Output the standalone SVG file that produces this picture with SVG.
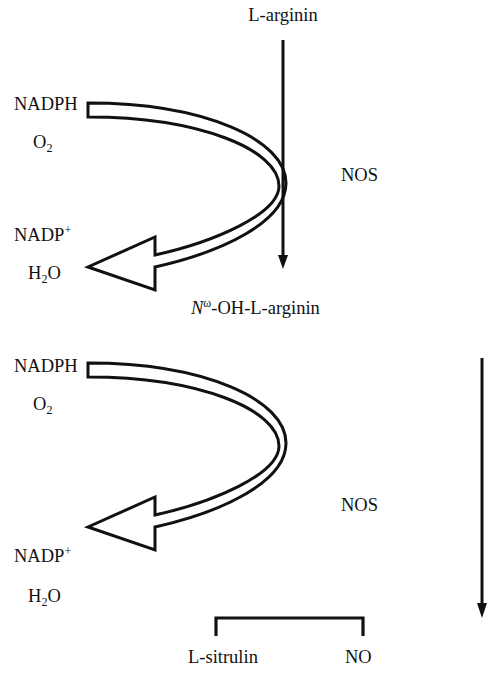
<svg xmlns="http://www.w3.org/2000/svg" xmlns:xlink="http://www.w3.org/1999/xlink" width="488" height="673" viewBox="0 0 488 673">
  <style>
    .lbl { font-family: "Liberation Serif", "Times New Roman", serif; font-size: 18.5px; fill: #111; }
    .mid { text-anchor: middle; }
    .sub { font-size: 12px; }
    .band { fill: #fff; stroke: #111; stroke-width: 3; stroke-linejoin: miter; }
    .shaft { stroke: #111; stroke-width: 3; fill: none; }
    .head { fill: #111; }
    .bracket { stroke: #111; stroke-width: 3.2; fill: none; }
  </style>
  <defs>
    <!-- hollow curved arrow: cofactor band sweeping right and back to the left -->
    <path id="uarrow" d="M88,103 C205,103 286,140 286,183 C286,222 222,252 155,267 L155,290 L88,267 L155,237 L155,255 C214,242 279,214 279,186 C279,150 200,117 88,117 Z"/>
  </defs>
  <rect width="488" height="673" fill="#fff"/>

  <g id="connectors">
    <!-- first step: L-arginin down to hydroxy intermediate -->
    <use xlink:href="#uarrow" class="band"/>
    <line class="shaft" x1="283" y1="40" x2="283" y2="258"/>
    <polygon class="head" points="278,255 288,255 283,269"/>

    <!-- second step -->
    <use xlink:href="#uarrow" class="band" transform="translate(0,260)"/>
    <line class="shaft" x1="482" y1="358" x2="482" y2="606"/>
    <polygon class="head" points="477,603 487,603 482,618"/>

    <!-- product bracket -->
    <polyline class="bracket" points="216,636 216,618 363,618 363,636"/>
  </g>

  <g id="l-arginin"><text class="lbl mid" x="283" y="21">L-arginin</text></g>
  <g id="nadph-1"><text class="lbl" x="14" y="110">NADPH</text></g>
  <g id="o2-1"><text class="lbl" x="33" y="148">O<tspan class="sub" dy="4">2</tspan></text></g>
  <g id="nos-1"><text class="lbl" x="341" y="181">NOS</text></g>
  <g id="nadp-1"><text class="lbl" x="14" y="241">NADP<tspan class="sub" dy="-7">+</tspan></text></g>
  <g id="h2o-1"><text class="lbl" x="28" y="279">H<tspan class="sub" dy="4">2</tspan><tspan dy="-4">O</tspan></text></g>
  <g id="n-oh-arginin"><text class="lbl" x="191" y="314"><tspan font-style="italic">N</tspan><tspan class="sub" dy="-7">ω</tspan><tspan dy="7">-OH-L-arginin</tspan></text></g>

  <g id="nadph-2"><text class="lbl" x="14" y="372">NADPH</text></g>
  <g id="o2-2"><text class="lbl" x="33" y="410">O<tspan class="sub" dy="4">2</tspan></text></g>
  <g id="nos-2"><text class="lbl" x="341" y="511">NOS</text></g>
  <g id="nadp-2"><text class="lbl" x="14" y="562">NADP<tspan class="sub" dy="-7">+</tspan></text></g>
  <g id="h2o-2"><text class="lbl" x="28" y="602">H<tspan class="sub" dy="4">2</tspan><tspan dy="-4">O</tspan></text></g>
  <g id="l-sitrulin"><text class="lbl" x="188" y="663">L-sitrulin</text></g>
  <g id="no"><text class="lbl" x="345" y="663">NO</text></g>
</svg>
